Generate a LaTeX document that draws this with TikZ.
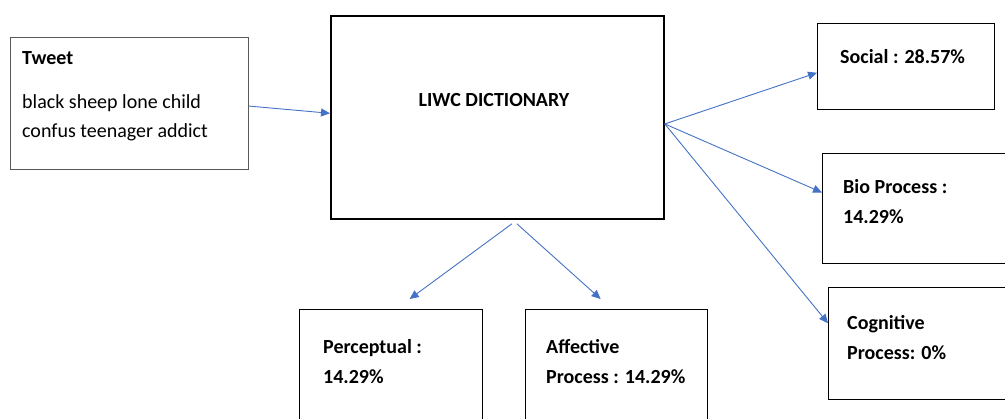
\documentclass[tikz,border=0pt]{standalone}
\usepackage{fontspec}
\setmainfont{Carlito}
\usetikzlibrary{arrows.meta,calc}
\definecolor{arrowblue}{HTML}{4472C4}
\definecolor{framegray}{HTML}{595959}
\begin{document}
\begin{tikzpicture}[x=1pt,y=-1pt,
  box/.style={draw=black,line width=1.3pt,anchor=north west,inner sep=0pt},
  txt/.style={anchor=west,inner sep=0pt,align=left,font=\fontsize{20}{30}\selectfont\bfseries},
  plain/.style={anchor=west,inner sep=0pt,align=left,font=\fontsize{20}{29}\selectfont},
  link/.style={draw=arrowblue,line width=0.9pt,-{Triangle[length=9pt,width=8pt]}}]
\clip (0,0) rectangle (1005,419);

% boxes
\node[box,draw=framegray,line width=0.8pt,minimum width=238pt,minimum height=132pt] (tweet) at (10,37) {};
\node[box,line width=1.8pt,minimum width=333pt,minimum height=203pt] (liwc) at (330,15) {};
\node[box,minimum width=177pt,minimum height=86pt] (social) at (817,23) {};
\node[box,minimum width=200pt,minimum height=110pt] (bio) at (822,153) {};
\node[box,minimum width=200pt,minimum height=112pt] (cog) at (828,287) {};
\node[box,minimum width=183pt,minimum height=130pt] (perc) at (299,309) {};
\node[box,minimum width=182pt,minimum height=130pt] (aff) at (525,309) {};

% texts
\node[txt] (tweettitle) at (22,58) {Tweet};
\node[plain] (tweetbody) at (22,117.5) {black sheep lone child\\confus teenager addict};
\node[txt,anchor=center] (liwctxt) at (494,100) {LIWC DICTIONARY};
\node[txt] (socialtxt) at (840,57) {Social : 28.57\%};
\node[txt] (biotxt) at (843,202) {Bio Process :\\14.29\%};
\node[txt] (cogtxt) at (847,338) {Cognitive\\Process: 0\%};
\node[txt] (perctxt) at (323,362) {Perceptual :\\14.29\%};
\node[txt] (afftxt) at (546,362) {Affective\\Process : 14.29\%};

% connectors
\coordinate (hub) at ($(liwc.north east)!0.532!(liwc.south east)$);
\coordinate (downl) at ($(liwc.south)+(14.5,4)$);
\coordinate (downr) at ($(liwc.south)+(19.5,4)$);
\coordinate (percin) at ($(perc.north)+(18.5,-10)$);
\coordinate (affin) at ($(aff.north)+(-16,-10)$);

\draw[link] ($(tweet.north east)!0.52!(tweet.south east)$) -- ($(liwc.north west)!0.48!(liwc.south west)$);
\draw[link] (hub) -- ($(social.north west)!0.57!(social.south west)$);
\draw[link] (hub) -- ($(bio.north west)!0.355!(bio.south west)$);
\draw[link] (hub) -- ($(cog.north west)!0.32!(cog.south west)$);
\draw[link] (downl) -- (percin);
\draw[link] (downr) -- (affin);
\end{tikzpicture}
\end{document}
